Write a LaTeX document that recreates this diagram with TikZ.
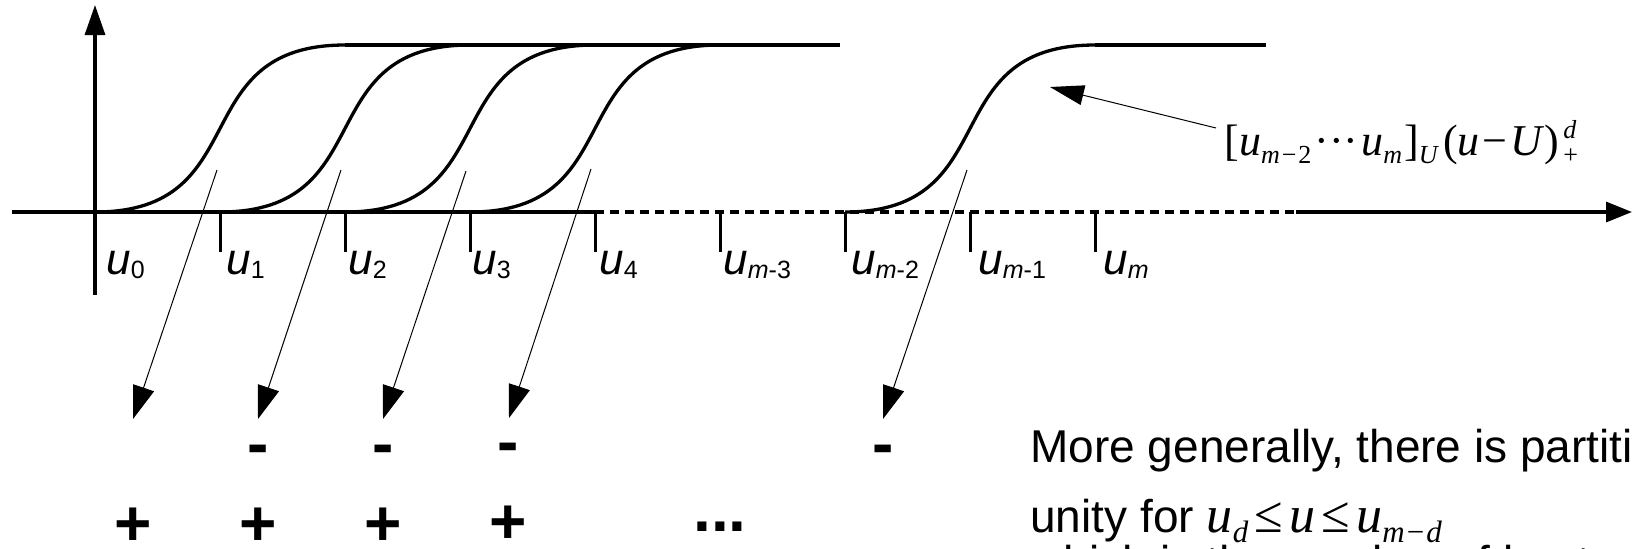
\documentclass[tikz,border=0pt]{standalone}
\usepackage{fontspec}
\setmainfont{Liberation Sans}
\newfontfamily\tms{Liberation Serif}
\usetikzlibrary{arrows.meta}
\newcommand\ulab[1]{\textit{u}\raisebox{-2pt}{\fontsize{12.5}{12.5}\selectfont #1}}
\newcommand\msub[1]{\raisebox{-4pt}{\fontsize{13}{13}\selectfont #1}}
\newcommand\msup[1]{\raisebox{8.5pt}{\fontsize{13}{13}\selectfont #1}}
\newcommand\lsub[1]{\raisebox{-5pt}{\fontsize{15.5}{15.5}\selectfont #1}}
\tikzset{
  heavy/.style={line width=1.65pt},
  tickline/.style={line width=1.5pt},
  ptr/.style={line width=0.5pt,-{Triangle[length=16.5pt,width=11pt]}},
  lab/.style={anchor=base west,inner sep=0pt,font=\fontsize{22}{22}\selectfont},
  sign/.style={inner sep=0pt,font=\fontsize{32}{32}\selectfont\bfseries},
  body/.style={anchor=base west,inner sep=0pt,font=\fontsize{23}{23}\selectfont},
}
\begin{document}
\begin{tikzpicture}[x=0.5pt,y=-0.5pt]
\useasboundingbox (0,0) rectangle (1632,548);
\clip (0,0) rectangle (1632,548);
% axes
\draw[heavy,-{Triangle[length=15pt,width=10pt]}] (95,295) -- (95,5);
\draw[heavy] (12,212) -- (595,212);
\draw[heavy,dash pattern=on 4.5pt off 3pt] (595,212) -- (1296,212);
\draw[heavy,-{Triangle[length=13pt,width=10pt]}] (1296,212) -- (1632,212);
% ticks
\foreach \x in {220,345,470,595,720,845,970,1095}
  \draw[tickline] (\x,212) -- (\x,252);
% labels
\node[lab] (l0) at (106,274) {\ulab{0}};
\node[lab] (l1) at (226,274) {\ulab{1}};
\node[lab] (l2) at (348,274) {\ulab{2}};
\node[lab] (l3) at (472,274) {\ulab{3}};
\node[lab] (l4) at (599,274) {\ulab{4}};
\node[lab] (l5) at (723,274) {\ulab{\textit{m}-3}};
\node[lab] (l6) at (851,274) {\ulab{\textit{m}-2}};
\node[lab] (l7) at (978,274) {\ulab{\textit{m}-1}};
\node[lab] (l8) at (1103,274) {\ulab{\textit{m}}};
% curves
\foreach \a in {95,220,345,470}
  \draw[heavy] (\a,212) .. controls (\a+162,212) and (\a+88,45) .. (\a+250,45);
\draw[heavy] (845,212) .. controls (1007,212) and (933,45) .. (1095,45);
\draw[heavy] (345,45) -- (840,45);
\draw[heavy] (1095,45) -- (1266,45);
% formula
\node[anchor=base west,inner sep=0pt] (form) at (1224,155)
  {\tms\fontsize{22}{22}\selectfont [\textit{u}\msub{\textit{m}\kern1pt−\kern1pt2}\kern1.5pt···\kern1.5pt\textit{u}\msub{\textit{m}}\kern1pt]\msub{\textit{U}}\kern2pt(\textit{u}\kern1.5pt−\kern1.5pt\textit{U})\kern2pt\rlap{\msup{\textit{d}}}\msub{+}};
\coordinate (fa) at (1216,128);
\coordinate (fh) at (1050,87);
\draw[line width=0.5pt,-{Triangle[length=17pt,width=10pt]}] (fa) -- (fh);
% down arrows
\coordinate (s1) at (217,170); \coordinate (t1) at (133,419);
\coordinate (s2) at (341,170); \coordinate (t2) at (258,419);
\coordinate (s3) at (466,171); \coordinate (t3) at (383,419);
\coordinate (s4) at (591,169); \coordinate (t4) at (509,418);
\coordinate (s5) at (967,170); \coordinate (t5) at (883,419);
\foreach \i in {1,...,5} \draw[ptr] (s\i) -- (t\i);
% signs
\node[sign] (m2) at (258,455) {-};
\node[sign] (m3) at (383,455) {-};
\node[sign] (m4) at (508,453) {-};
\node[sign] (m5) at (883,455) {-};
\node[sign] (p1) at (133,527) {+};
\node[sign] (p2) at (258,527) {+};
\node[sign] (p3) at (383,527) {+};
\node[sign] (p4) at (508,525) {+};
\node[sign] (dots) at (720,527) {...};
% text
\node[body] (tx1) at (1030,462) {More generally, there is partition of};
\node[body] (tx2) at (1030,532) {unity for\ {\tms\fontsize{26}{26}\selectfont\textit{u}\lsub{\textit{d}}\hspace{0.12em}≤\hspace{0.12em}\textit{u}\hspace{0.12em}≤\hspace{0.12em}\textit{u}\lsub{\textit{m}\kern1pt−\kern1pt\textit{d}}}};
\node[body] (tx3) at (1030,578) {which is the number of knots};
\end{tikzpicture}
\end{document}
